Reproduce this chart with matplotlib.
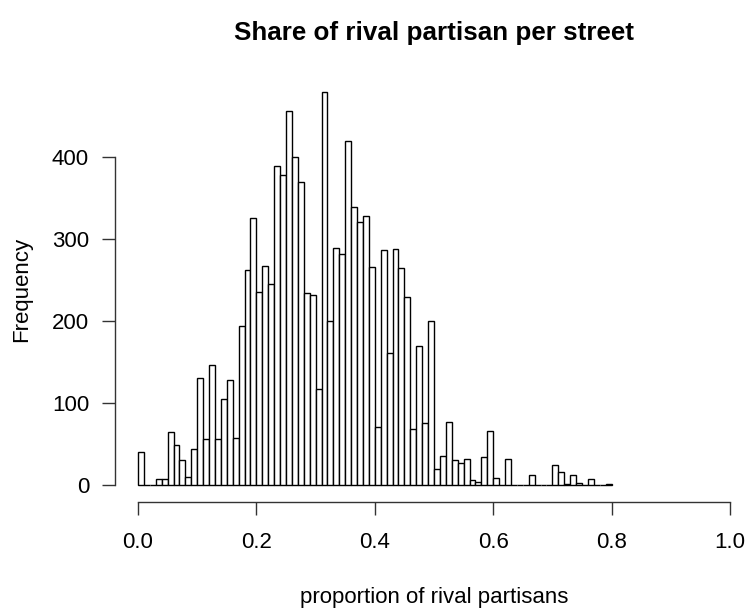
import numpy as np
import matplotlib
matplotlib.use("Agg")
import matplotlib.pyplot as plt

plt.rcParams['font.family'] = ['Liberation Sans', 'DejaVu Sans']

# Histogram of street-level shares: 0.01-wide bins from 0 to 0.8
bin_edges = np.round(np.arange(0, 0.81, 0.01), 2)
counts = [40, 0, 0, 7, 7, 65, 49, 31, 10, 44,
          131, 56, 147, 56, 105, 128, 57, 194, 262, 326,
          236, 267, 245, 389, 378, 457, 400, 370, 234, 232,
          117, 480, 200, 289, 282, 420, 340, 321, 329, 266,
          71, 287, 161, 288, 265, 229, 68, 170, 76, 200,
          19, 35, 77, 31, 27, 32, 6, 4, 34, 66,
          8, 0, 32, 0, 0, 0, 12, 0, 0, 0,
          25, 16, 1, 12, 3, 0, 7, 0, 0, 1]
x_ticks = [0.0, 0.2, 0.4, 0.6, 0.8, 1.0]
y_ticks = [0, 100, 200, 300, 400]

W, H = 749, 611
fig = plt.figure(figsize=(W / 100, H / 100), dpi=100)

# plot region in pixels
left_px, right_px, top_px, bot_px = 115, 749, 76, 502
ax = fig.add_axes([left_px / W, 1 - bot_px / H,
                   (right_px - left_px) / W, (bot_px - top_px) / H])

x0_px, px_per_x = 138, 592.0
y0_px, px_per_y = 485, 0.819
ax.set_xlim((left_px - x0_px) / px_per_x, (right_px - x0_px) / px_per_x)
ax.set_ylim((y0_px - bot_px) / px_per_y, (y0_px - top_px) / px_per_y)

ax.bar(bin_edges[:-1], counts, width=0.01, align='edge',
       facecolor='white', edgecolor='black', linewidth=1.0)

for s in ['top', 'right']:
    ax.spines[s].set_visible(False)
ax.spines['left'].set_bounds(0, 400)
ax.spines['bottom'].set_bounds(0, 1)
for s in ['left', 'bottom']:
    ax.spines[s].set_linewidth(1.0)
    ax.spines[s].set_color('#333333')

ax.set_xticks(x_ticks)
ax.set_xticklabels([f"{t:.1f}" for t in x_ticks])
ax.set_yticks(y_ticks)
ax.set_yticklabels([str(t) for t in y_ticks])
ax.tick_params(axis='both', length=9.7, width=1.0, color='#333333',
               labelsize=16)
ax.tick_params(axis='x', pad=12)
ax.tick_params(axis='y', pad=9)

ax.set_xlabel("proportion of rival partisans", fontsize=16, labelpad=0)
ax.xaxis.set_label_coords((434 - left_px) / (right_px - left_px),
                          (bot_px - 597) / (bot_px - top_px))
ax.set_ylabel("Frequency", fontsize=16)
ax.yaxis.set_label_coords((22 - left_px) / (right_px - left_px),
                          (bot_px - 289) / (bot_px - top_px))
ax.xaxis.label.set_verticalalignment('center')
ax.yaxis.label.set_verticalalignment('center')

fig.text(434 / W, 1 - 33 / H, "Share of rival partisan per street",
         ha='center', va='center', fontsize=18.7, fontweight='bold')

fig.savefig("out.png", dpi=100)
